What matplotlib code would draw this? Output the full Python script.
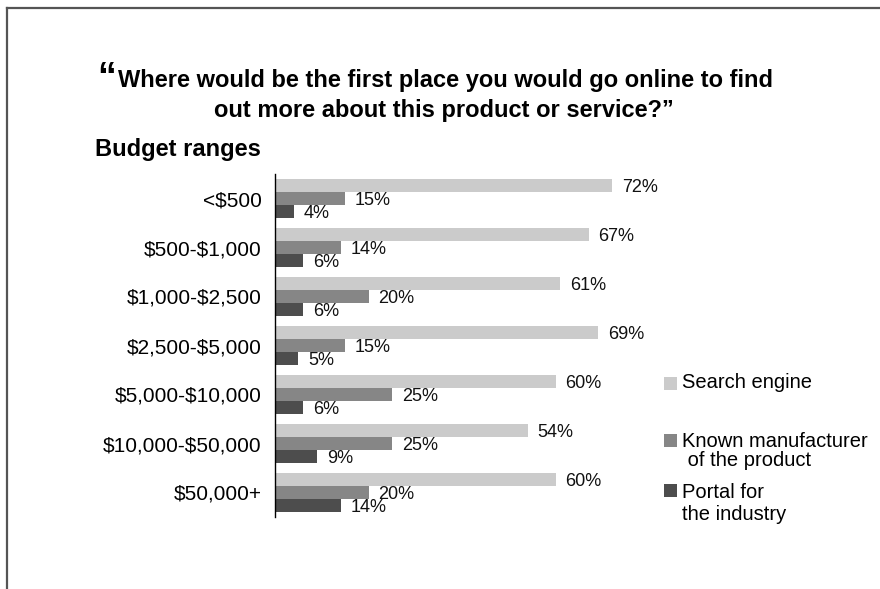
"""
Horizontal grouped bar chart: first place people go online, by budget range
"""
import matplotlib.pyplot as plt
from matplotlib.patches import Rectangle
from matplotlib.lines import Line2D
import numpy as np

# pylint: disable=invalid-name

plt.rcParams['font.family'] = ['Liberation Sans', 'DejaVu Sans']

budgets = ['<$500', '$500-$1,000', '$1,000-$2,500', '$2,500-$5,000',
           '$5,000-$10,000', '$10,000-$50,000', '$50,000+']
search_engine = [72, 67, 61, 69, 60, 54, 60]
manufacturer = [15, 14, 20, 15, 25, 25, 20]
portal = [4, 6, 6, 5, 6, 9, 14]

series = [search_engine, manufacturer, portal]
series_names = ['Search engine', 'Known manufacturer\n of the product',
                'Portal for\nthe industry']
colours = ['#cbcbcb', '#868686', '#4d4d4d']

W, H = 880, 589
fig = plt.figure(figsize=(W / 100, H / 100), dpi=100)
ax = fig.add_axes([275 / W, 1 - 517 / H, 380 / W, 343 / H])

bar_h = 13 / 49
y = np.arange(len(budgets))
for i, (vals, col) in enumerate(zip(series, colours)):
    yy = y + (i - 1) * bar_h
    ax.barh(yy, vals, height=bar_h, color=col, edgecolor='none')
    for yv, v in zip(yy, vals):
        ax.annotate('{}%'.format(v), xy=(v, yv), xytext=(7, -1.2),
                    textcoords='offset points', ha='left', va='center',
                    fontsize=13, color='#111111')

ax.set_xlim(0, 380 / 4.68)
ax.set_ylim(len(budgets) - 0.5, -0.5)
ax.set_yticks(y)
# escape the dollar signs so they are not read as mathtext
ax.set_yticklabels([b.replace('$', r'\$') for b in budgets], fontsize=15)
ax.tick_params(axis='y', length=0, pad=9.5)
ax.set_xticks([])
for side in ('top', 'right', 'bottom'):
    ax.spines[side].set_visible(False)
ax.spines['left'].set_linewidth(1.0)
ax.spines['left'].set_color('black')

# titles
fig.text(97 / W, 1 - 89 / H, '\u201c', fontsize=27, fontweight='bold',
         ha='left', va='baseline')
fig.text(445 / W, 1 - 86.5 / H,
         'Where would be the first place you would go online to find',
         fontsize=17, fontweight='bold', ha='center', va='baseline')
fig.text(444 / W, 1 - 117.5 / H,
         'out more about this product or service?\u201d',
         fontsize=17, fontweight='bold', ha='center', va='baseline')
fig.text(95 / W, 1 - 156 / H, 'Budget ranges', fontsize=17,
         fontweight='bold', ha='left', va='baseline')

# legend drawn by hand so squares sit on the first line of each label
legend_tops = [377, 434, 484]
text_shift = [-4, -2, -1.5]
legend_spacing = [1.0, 1.0, 1.25]
for top, dy, name, col, ls in zip(legend_tops, text_shift, series_names,
                                  colours, legend_spacing):
    fig.add_artist(Rectangle((664 / W, 1 - (top + 12.5) / H), 12.5 / W,
                             12.5 / H, transform=fig.transFigure,
                             facecolor=col, edgecolor='none'))
    fig.text(682 / W, 1 - (top + dy) / H, name, fontsize=14.5,
             ha='left', va='top', linespacing=ls)

# frame lines along the top and left edges
fig.add_artist(Line2D([6.5 / W, 1], [1 - 7.5 / H, 1 - 7.5 / H],
                      transform=fig.transFigure, color='#555555', lw=1.6))
fig.add_artist(Line2D([6.5 / W, 6.5 / W], [0, 1 - 7.5 / H],
                      transform=fig.transFigure, color='#555555', lw=1.6))

fig.savefig('out.png', dpi=100)
